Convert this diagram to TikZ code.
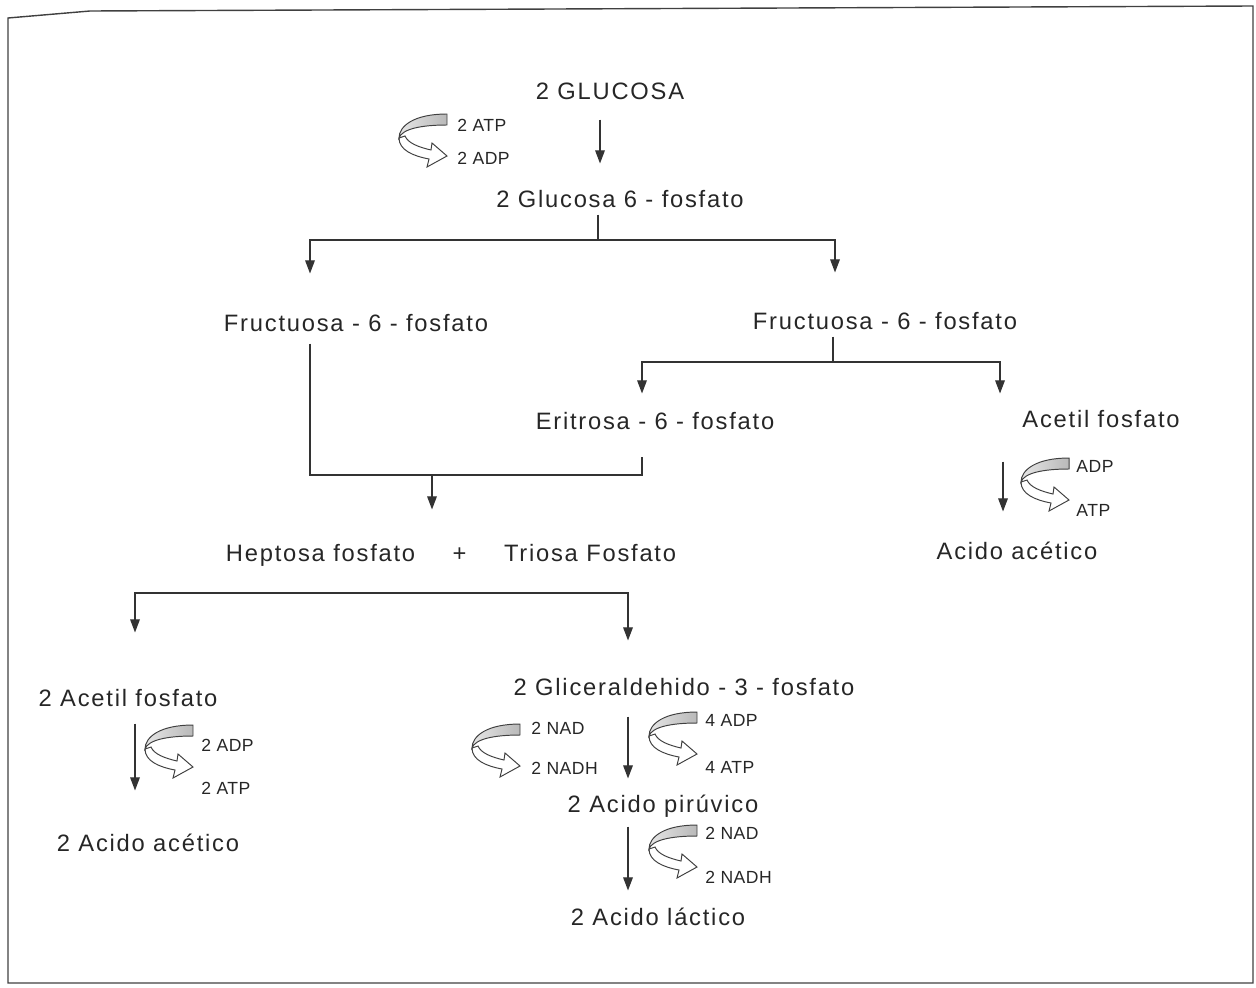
\documentclass[tikz,border=0pt]{standalone}
\usepackage{fontspec}
\usepackage{tikz}
\usetikzlibrary{arrows.meta,positioning,calc}
\newfontfamily\lbl{Liberation Sans}[LetterSpace=7.5]
\newfontfamily\sml{Liberation Sans}[LetterSpace=3]
\tikzset{
  compuesto/.style={font=\lbl\fontsize{13.5}{16}\selectfont, text=black!85, inner sep=1pt, text height=10pt, text depth=3pt},
  cofactor/.style={font=\sml\fontsize{10}{12}\selectfont, text=black!85, inner sep=0pt, anchor=west},
  linea/.style={draw=black!80, line width=0.7pt},
  flecha/.style={linea, -{Triangle[width=5.5pt,length=7.5pt]}},
  ciclo/.pic={
    \draw[black!75, line width=0.55pt, fill=white] (0,24) .. controls (0,36) and (14,42) .. (30,45) -- (28,53) -- (48,42) -- (33,29) -- (32,36) .. controls (19,33) and (9,29) .. (6,22) -- cycle;
    \draw[black!75, line width=0.55pt, left color=gray!20, right color=gray!55] (48,0) .. controls (15,0) and (0,12) .. (0,24) .. controls (3,15) and (22,11) .. (48,11) -- cycle;
  }
}
\begin{document}
\begin{tikzpicture}[x=0.02cm, y=-0.02cm]
\useasboundingbox (0,0) rectangle (1256,987);
\draw[line width=0.8pt, black!75] (8,18) -- (90,11) -- (1253,6) -- (1253,983) -- (8,983) -- cycle;

\node[compuesto] (glu) at (610,93) {2 GLUCOSA};
\node[compuesto] (g6p) at (620,201) {2 Glucosa 6 - fosfato};
\node[compuesto] (fru1) at (356,325) {Fructuosa - 6 - fosfato};
\node[compuesto] (fru2) at (885,323) {Fructuosa - 6 - fosfato};
\node[compuesto] (eri) at (655,423) {Eritrosa - 6 - fosfato};
\node[compuesto] (acf) at (1101,421) {Acetil fosfato};
\node[compuesto] (hept) at (451,555) {Heptosa fosfato\hspace{0.75cm}+\hspace{0.75cm}Triosa Fosfato};
\node[compuesto] (aac) at (1017,553) {Acido acético};
\node[compuesto] (acf2) at (128,700) {2 Acetil fosfato};
\node[compuesto] (gli) at (684,689) {2 Gliceraldehido - 3 - fosfato};
\node[compuesto] (aac2) at (148,845) {2 Acido acético};
\node[compuesto] (pir) at (663,806) {2 Acido pirúvico};
\node[compuesto] (lac) at (658,919) {2 Acido láctico};

\coordinate (j1) at (598,240);
\coordinate (j2) at (833,362);
\coordinate (j3) at (432,475);
\coordinate (j4) at (451,593);

\draw[flecha, shorten <=0.26cm, shorten >=0.48cm] (glu.south -| 600,0) -- (g6p.north -| 600,0);
\draw[linea] (g6p.south -| j1) -- (j1);
\draw[flecha, shorten >=0.76cm] (j1) -| (fru1.north -| 310,0);
\draw[flecha, shorten >=0.74cm] (j1) -| (fru2.north -| 835,0);
\draw[linea] (fru2.south -| j2) -- (j2);
\draw[flecha, shorten >=0.32cm] (j2) -| (eri.north -| 642,0);
\draw[flecha, shorten >=0.28cm] (j2) -| (acf.north -| 1000,0);
\draw[linea, shorten <=0.1cm, shorten >=0.4cm] (fru1.south -| 310,0) |- (j3) -| (eri.south -| 642,0);
\draw[flecha, shorten >=0.64cm] (j3) -- (hept.north -| j3);
\draw[flecha, shorten <=0.54cm, shorten >=0.56cm] (acf.south -| 1003,0) -- (aac.north -| 1003,0);
\draw[flecha, shorten >=1.08cm] (j4) -| (acf2.north -| 135,0);
\draw[flecha, shorten >=0.7cm] (j4) -| (gli.north -| 628,0);
\draw[flecha, shorten <=0.2cm, shorten >=0.82cm] (acf2.south -| 135,0) -- (aac2.north -| 135,0);
\draw[flecha, shorten <=0.28cm, shorten >=0.28cm] (gli.south -| 628,0) -- (pir.north -| 628,0);
\draw[flecha, shorten <=0.14cm, shorten >=0.3cm] (pir.south -| 628,0) -- (lac.north -| 628,0);

\pic at (399,114) {ciclo};
\node[cofactor] (atp1) at (457,125) {2 ATP};
\node[cofactor] (adp1) at (457,158) {2 ADP};
\pic at (1021,458) {ciclo};
\node[cofactor] (adp2) at (1076,466) {ADP};
\node[cofactor] (atp2) at (1076,510) {ATP};
\pic at (145,725) {ciclo};
\node[cofactor] (adp3) at (201,745) {2 ADP};
\node[cofactor] (atp3) at (201,788) {2 ATP};
\pic at (472,724) {ciclo};
\node[cofactor] (nad1) at (531,728) {2 NAD};
\node[cofactor] (nadh1) at (531,768) {2 NADH};
\pic at (649,712) {ciclo};
\node[cofactor] (adp4) at (705,720) {4 ADP};
\node[cofactor] (atp4) at (705,767) {4 ATP};
\pic at (649,825) {ciclo};
\node[cofactor] (nad2) at (705,833) {2 NAD};
\node[cofactor] (nadh2) at (705,877) {2 NADH};
\end{tikzpicture}
\end{document}
